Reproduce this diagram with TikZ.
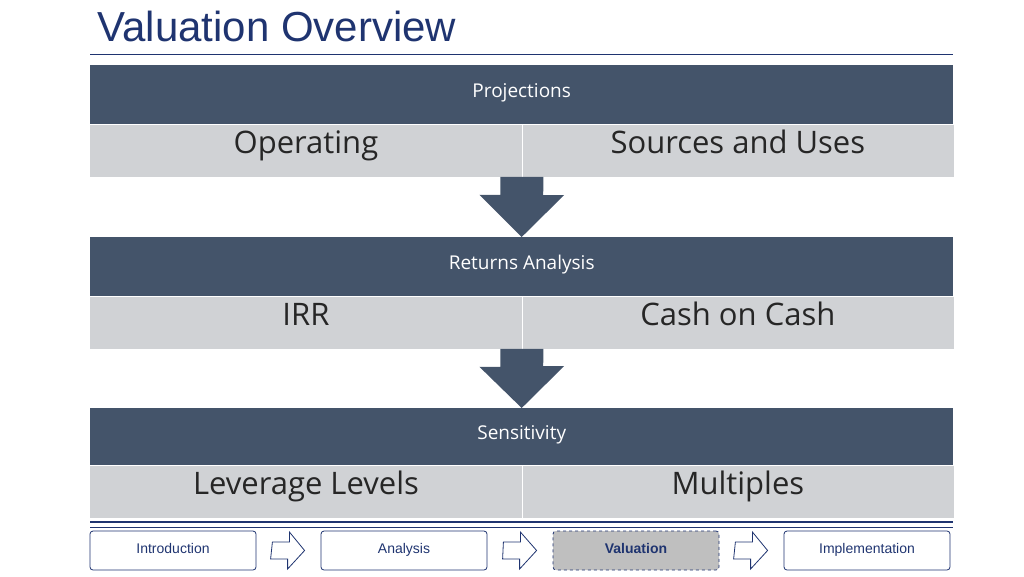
\documentclass[tikz,border=0pt]{standalone}
\usepackage{fontspec}
\setmainfont{Open Sans}
\newfontfamily\arialfont{Liberation Sans}
\usetikzlibrary{positioning}
\definecolor{navy}{HTML}{1F3470}
\definecolor{slate}{HTML}{44546A}
\definecolor{pale}{HTML}{D0D2D5}
\tikzstyle{header} = [fill=slate, text=white, minimum width=863pt, minimum height=59pt, inner sep=0pt, text height=0.72em, text depth=0.22em, font=\fontsize{19}{19}\selectfont]
\tikzstyle{cell} = [fill=pale, text=black!85, minimum width=431.5pt, minimum height=52pt, inner sep=0pt, text height=0.72em, text depth=0.22em, font=\fontsize{31}{31}\selectfont]
\tikzstyle{navbox} = [draw=navy, thick, rounded corners=3pt, minimum width=166pt, minimum height=39pt, text height=0.72em, text depth=0.2em, text=navy, font=\arialfont\fontsize{14}{14}\selectfont]
\tikzstyle{navarrow} = [draw=navy, thick, fill=white]
\tikzstyle{downarrow} = [fill=slate]
\begin{document}
\begin{tikzpicture}[x=1pt, y=-1pt]
  \useasboundingbox (0,0) rectangle (1024,576);
  \node [anchor=west, text=navy, font=\arialfont\fontsize{42}{42}\selectfont] (title) at (94,26) {Valuation Overview};
  \draw [navy] (90,54) -- (953,54);

  % projections
  \node [header, anchor=north west] (h1) at (90,65) {Projections};
  \node [cell, below=0pt of h1.south west, anchor=north west] (c1a) {Operating};
  \node [cell, right=0pt of c1a] (c1b) {Sources and Uses};

  % returns
  \node [header, anchor=north west] (h2) at (90,237) {Returns Analysis};
  \node [cell, below=0pt of h2.south west, anchor=north west] (c2a) {IRR};
  \node [cell, right=0pt of c2a] (c2b) {Cash on Cash};

  % sensitivity
  \node [header, anchor=north west, minimum height=57pt] (h3) at (90,408) {Sensitivity};
  \node [cell, below=0pt of h3.south west, anchor=north west] (c3a) {Leverage Levels};
  \node [cell, right=0pt of c3a] (c3b) {Multiples};
  \foreach \r in {1,2,3}
    \draw [white, line width=0.8pt] (c\r a.north east) -- (c\r a.south east);

  % arrows between bands
  \foreach \r/\s in {1/h2,2/h3}
    \fill [downarrow] ([xshift=-21.5pt]c\r a.south east) -- ++(0,18) -- ++(-21,0)
      -- (\s.north) -- ++(42.5,-42) -- ++(-21,0) -- ([xshift=21.5pt]c\r a.south east) -- cycle;

  % navigation
  \draw [navy, line width=1.6pt] (90,522) -- (953,522);
  \draw [navy, line width=0.6pt] (90,527) -- (953,527);
  \node [navbox] (n1) at (173,550.5) {Introduction};
  \node [navbox] (n2) at (404,550.5) {Analysis};
  \node [navbox, fill=black!25, dashed, font=\arialfont\bfseries\fontsize{14}{14}\selectfont] (n3) at (636,550.5) {Valuation};
  \node [navbox] (n4) at (867,550.5) {Implementation};
  \foreach \a/\b in {n1/n2,n2/n3,n3/n4}
    \draw [navarrow] ([xshift=16pt,yshift=8.5pt]\a.east) -- ++(17,0) -- ++(0,-10)
      -- ([xshift=-16pt]\b.west) -- ++(-17,18.5) -- ++(0,-10) -- ++(-17,0) -- cycle;
\end{tikzpicture}
\end{document}
